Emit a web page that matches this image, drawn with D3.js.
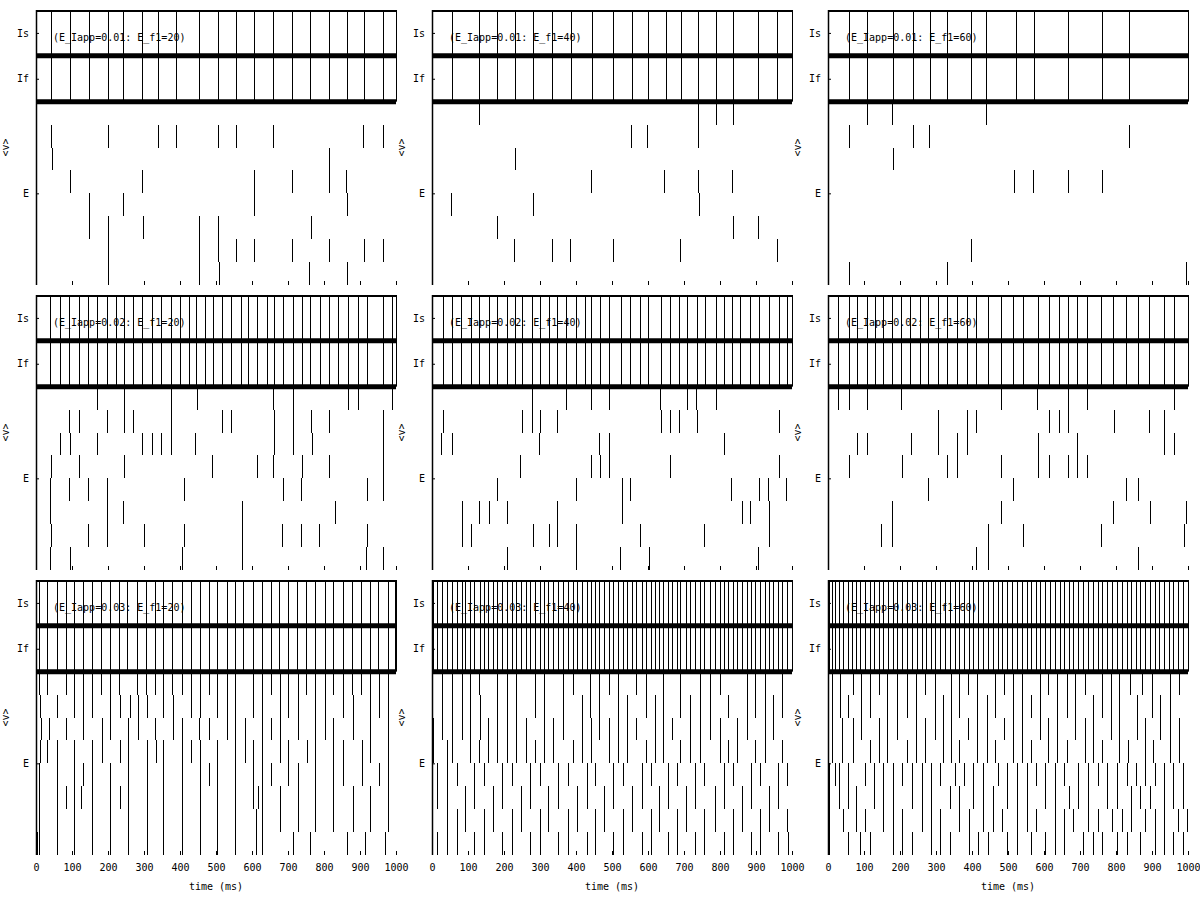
<!DOCTYPE html>
<html><head><meta charset="utf-8">
<script src="https://cdn.jsdelivr.net/npm/d3@7/dist/d3.min.js"></script>
<style>
body{margin:0;background:#fff}
text{font-family:"DejaVu Sans Mono","Liberation Mono",monospace;font-size:10px;fill:#000}
</style>
</head><body>
<svg id="chart" width="1200" height="900"></svg>
<script>
// ---- parameters of the 3x3 grid ----
const iappValues = [0.01, 0.02, 0.03];
const f1Values = [20, 40, 60];
const timeTicks = [0, 100, 200, 300, 400, 500, 600, 700, 800, 900, 1000];
const bandTickValues = [11, 9, 4];
const bandTickLabels = ["Is", "If", "E"];

// ---- inhibitory (Is / If) spike times, ms ----
const inh_01_20 = [43,95,147,201,243,294,340,389,453,506,555,606,658,710,762,814,863,910,965];
const inh_01_40 = [56,131,181,231,281,332,386,445,502,555,601,649,692,740,788,837,906,957];
const inh_01_60 = [59,109,180,237,282,330,398,438,521,573,666,760,836];
const inh_02_20 = [39,67,93,119,145,170,196,222,245,270,295,321,346,374,400,425,444,469,493,516,541,569,590,613,641,661,685,713,738,761,789,814,840,868,894,919,963,988];
const inh_02_40 = [30,55,81,107,131,158,181,207,231,249,277,300,325,346,371,399,425,442,467,493,525,550,578,601,636,661,686,709,735,758,789,811,832,856,883,909,936,964,985];
const inh_02_60 = [29,59,81,107,131,153,177,203,228,256,279,306,330,357,385,411,445,481,515,541,584,615,642,668,691,720,757,793,827,862,893,934,962];
const inh_03_20 = [9,30,59,83,106,131,155,180,206,231,254,280,305,331,354,379,405,430,456,481,504,530,553,576,604,627,652,676,701,724,750,775,803,826,852,877,902,928,951,977,997];
const inh_03_40 = [4,13,29,41,55,69,82,92,106,117,133,145,156,170,181,194,209,221,233,246,261,272,286,300,311,323,337,351,365,379,391,404,416,430,442,453,465,478,492,504,518,530,543,556,568,582,594,607,619,631,643,656,666,680,689,705,717,731,744,756,772,786,800,811,823,835,846,860,874,885,897,911,925,937,948,960,971,985];
const inh_03_60 = [4,10,19,31,41,55,68,77,89,103,117,128,142,154,168,181,193,206,219,232,246,260,271,285,297,311,325,339,353,365,379,392,404,418,431,445,459,471,484,496,510,524,538,552,564,577,589,603,617,631,644,656,669,681,695,709,723,735,749,762,774,788,802,816,830,842,855,867,881,894,908,920,934,947,959,973,987];

// ---- excitatory (E) spike times, one list per neuron (top to bottom), ms ----
const exc_01_20 = [
  [],
  [42,201,340,389,506,555,657,909,965],
  [45,814],
  [95,294,606,710,814,860],
  [147,243,606,863],
  [147,201,296,453,506,764],
  [201,453,506,555,606,710,814,912,965],
  [201,453,509,759,863]
];
const exc_01_40 = [
  [131,740,788,837],
  [553,598,740],
  [231],
  [442,645,740,834],
  [53,280,742],
  [181,837,906],
  [229,332,384,503,690,959],
  []
];
const exc_01_60 = [
  [107,179,438],
  [58,235,281,836],
  [181],
  [518,570,666,760],
  [],
  [],
  [396],
  [59,330,994]
];
const exc_02_20 = [
  [169,245,374,446,659,713,868,894,988],
  [93,119,196,245,270,374,516,541,661,713,763,815,963],
  [67,94,170,295,321,346,374,442,661,715,766,963],
  [41,119,245,490,613,659,738,814,963],
  [39,93,145,196,412,685,735,920,965],
  [39,196,243,571,831],
  [41,145,196,300,412,571,682,735,787,919],
  [39,94,405,571,917,963]
];
const exc_02_40 = [
  [277,371,442,493,633,709,733,789],
  [30,249,277,300,346,636,661,686,735,964],
  [25,55,298,465,493,811],
  [244,442,467,493,661,964],
  [181,400,527,550,831,909,934,983],
  [82,131,159,209,348,527,860,883,936],
  [82,108,280,325,348,399,578,756,936],
  [209,400,522,604,906]
];
const exc_02_60 = [
  [29,59,107,203,481,580,668,720,962],
  [306,385,411,615,642,668,794,893,934],
  [80,107,231,306,357,385,584,691,934,962],
  [58,206,331,359,481,584,615,666,691,720],
  [279,515,827,862],
  [177,481,793,894,994],
  [146,177,444,543,757,990],
  [411,445,862]
];
const exc_03_20 = [
  [9,30,83,106,131,155,180,206,231,280,305,331,354,379,405,430,456,481,504,530,553,604,627,652,678,701,727,750,775,803,826,854,879,904,928,953,977],
  [11,59,106,130,156,206,233,261,282,307,354,380,430,456,504,530,553,604,629,678,701,727,775,803,854,880,928,953,977],
  [13,37,82,131,182,206,256,282,331,380,405,454,481,530,553,581,629,653,678,727,775,803,826,880,928,977],
  [11,31,59,106,156,182,233,256,307,332,354,405,430,456,504,553,581,604,629,678,701,752,775,826,854,905,928,977],
  [9,59,106,131,156,206,256,307,354,405,456,481,504,553,604,629,653,701,727,775,826,854,905,953,977],
  [9,59,82,106,124,156,206,233,256,307,354,405,456,504,553,604,616,629,678,727,775,826,880,928,977],
  [9,57,106,156,206,256,307,354,405,456,504,553,611,629,678,727,775,826,880,928,977],
  [4,9,57,106,156,206,256,307,354,405,456,504,553,611,629,715,761,863,914,969]
];
const exc_03_40 = [
  [29,55,82,106,131,181,207,233,286,311,365,391,439,465,492,518,567,594,643,689,744,772,800,874,897,925,971],
  [29,55,82,106,133,181,209,233,286,311,365,416,439,465,518,543,594,619,643,689,717,744,772,823,874,897,925,948,971],
  [4,29,55,82,106,133,156,181,209,233,261,311,337,365,416,442,465,492,518,543,568,619,643,666,717,744,772,800,846,874,925,948],
  [4,41,55,106,131,156,181,209,233,261,286,311,337,391,416,442,492,518,543,594,619,643,689,717,744,800,823,846,897,925,971],
  [13,41,69,117,145,194,221,272,300,351,379,430,453,504,530,582,607,656,680,731,756,811,835,885,911,960,985],
  [13,41,92,117,170,194,246,272,323,351,404,430,478,504,556,582,631,656,705,731,786,811,860,885,937,960],
  [41,69,92,145,170,221,246,300,323,379,404,453,478,530,556,607,631,680,705,756,786,835,860,911,937,985],
  [13,41,69,117,145,194,221,272,300,351,379,430,453,504,530,582,607,656,680,731,756,811,835,885,911,960,990]
];
const exc_03_60 = [
  [12,33,69,91,117,142,165,193,219,244,269,297,341,365,390,415,464,489,515,538,589,612,635,663,686,714,760,785,809,839,871,899,950,975],
  [12,33,56,91,117,165,193,219,244,297,320,341,365,415,441,464,515,538,564,589,635,663,686,737,760,785,809,857,899,922,950],
  [12,40,69,91,142,165,193,244,269,297,320,341,390,415,441,489,515,538,589,612,635,686,714,737,785,809,857,881,922,950,975],
  [12,40,69,117,142,165,219,244,269,320,341,365,415,441,464,515,538,564,612,635,663,714,737,760,809,834,881,904,950,975],
  [4,19,31,55,103,128,154,181,206,232,260,285,311,353,379,404,431,471,496,524,552,577,603,631,656,695,723,749,774,802,830,855,881,908,934,959,987],
  [4,31,55,77,128,154,181,232,260,285,339,365,404,431,459,496,524,552,603,631,669,695,723,774,802,842,867,894,934,959,987],
  [4,41,77,103,154,181,206,260,285,311,365,392,431,459,484,524,552,577,631,656,681,723,749,788,816,842,881,908,934,973,996],
  [4,55,89,117,181,206,232,285,311,339,392,418,445,496,524,564,603,631,656,709,735,762,802,830,867,908,934,959,987]
];

// lookup tables built from the arrays above
const inhTable = [[inh_01_20, inh_01_40, inh_01_60],[inh_02_20, inh_02_40, inh_02_60],[inh_03_20, inh_03_40, inh_03_60]];
const excTable = [[exc_01_20, exc_01_40, exc_01_60],[exc_02_20, exc_02_40, exc_02_60],[exc_03_20, exc_03_40, exc_03_60]];

// ---- drawing ----
const svg = d3.select("#chart");
const W = 360, H = 275;
const colX = [36, 432, 828];
const rowY = [10, 295, 580];
const px = v => Math.round(v) + 0.5;

iappValues.forEach((iapp, r) => {
  f1Values.forEach((f1, c) => {
    const g = svg.append("g").attr("transform", `translate(${colX[c]},${rowY[r]})`);
    const x = d3.scaleLinear().domain([0, 1000]).range([0, W]);
    const y = d3.scaleLinear().domain([0, 12]).range([H, 0]);

    // inhibitory spikes: span Is and If bands
    g.append("g").selectAll("line").data(inhTable[r][c]).join("line")
      .attr("x1", d => px(x(d))).attr("x2", d => px(x(d)))
      .attr("y1", y(12)).attr("y2", y(8))
      .attr("stroke", "#000").attr("stroke-width", 1).attr("shape-rendering", "crispEdges");

    // excitatory spikes: one row per neuron
    const exc = excTable[r][c];
    const eData = [];
    exc.forEach((row, k) => row.forEach(t => eData.push({t, k})));
    g.append("g").selectAll("line").data(eData).join("line")
      .attr("x1", d => px(x(d.t))).attr("x2", d => px(x(d.t)))
      .attr("y1", d => y(8 - d.k)).attr("y2", d => y(7 - d.k))
      .attr("stroke", "#000").attr("stroke-width", 1).attr("shape-rendering", "crispEdges");

    // band separators
    g.append("line").attr("x1", x(0)).attr("x2", x(1000)).attr("y1", y(10)).attr("y2", y(10))
      .attr("stroke", "#000").attr("stroke-width", 5);
    g.append("line").attr("x1", x(0)).attr("x2", x(1000)).attr("y1", y(8)).attr("y2", y(8))
      .attr("stroke", "#000").attr("stroke-width", 5);
    g.append("line").attr("x1", x(0)).attr("x2", x(1000)).attr("y1", y(12) + 1).attr("y2", y(12) + 1)
      .attr("stroke", "#000").attr("stroke-width", 2);
    g.append("line").attr("x1", px(x(1000))).attr("x2", px(x(1000))).attr("y1", y(12)).attr("y2", y(8))
      .attr("stroke", "#000").attr("stroke-width", 1);
    g.append("line").attr("x1", 0.5).attr("x2", 0.5).attr("y1", y(12)).attr("y2", y(0))
      .attr("stroke", "#000").attr("stroke-width", 1.5);

    // x axis (ticks inward)
    const xa = d3.axisBottom(x).tickValues(timeTicks).tickSize(-4).tickPadding(9)
      .tickFormat(r === 2 ? d3.format("d") : () => "");
    const xg = g.append("g").attr("transform", `translate(0,${H})`).call(xa);
    xg.select(".domain").remove();
    xg.selectAll("text").style("font-family", '"DejaVu Sans Mono",monospace').style("font-size", "10px");

    // y axis band labels
    const ya = d3.axisLeft(y).tickValues(bandTickValues).tickSize(-3).tickPadding(7)
      .tickFormat((d, i) => bandTickLabels[i]);
    const yg = g.append("g").call(ya);
    yg.select(".domain").remove();
    yg.selectAll("text").style("font-family", '"DejaVu Sans Mono",monospace').style("font-size", "10px");

    // y label
    g.append("text").attr("transform", `translate(-31,${H / 2}) rotate(-90)`)
      .attr("text-anchor", "middle").attr("dy", "0.35em").text("<v>");

    // annotation
    g.append("text").attr("x", 17).attr("y", 31)
      .text(`(E_Iapp=${iapp.toFixed(2)}: E_f1=${f1})`);

    if (r === 2) {
      g.append("text").attr("x", W / 2).attr("y", H + 35).attr("text-anchor", "middle").text("time (ms)");
    }
  });
});
</script>
</body></html>
